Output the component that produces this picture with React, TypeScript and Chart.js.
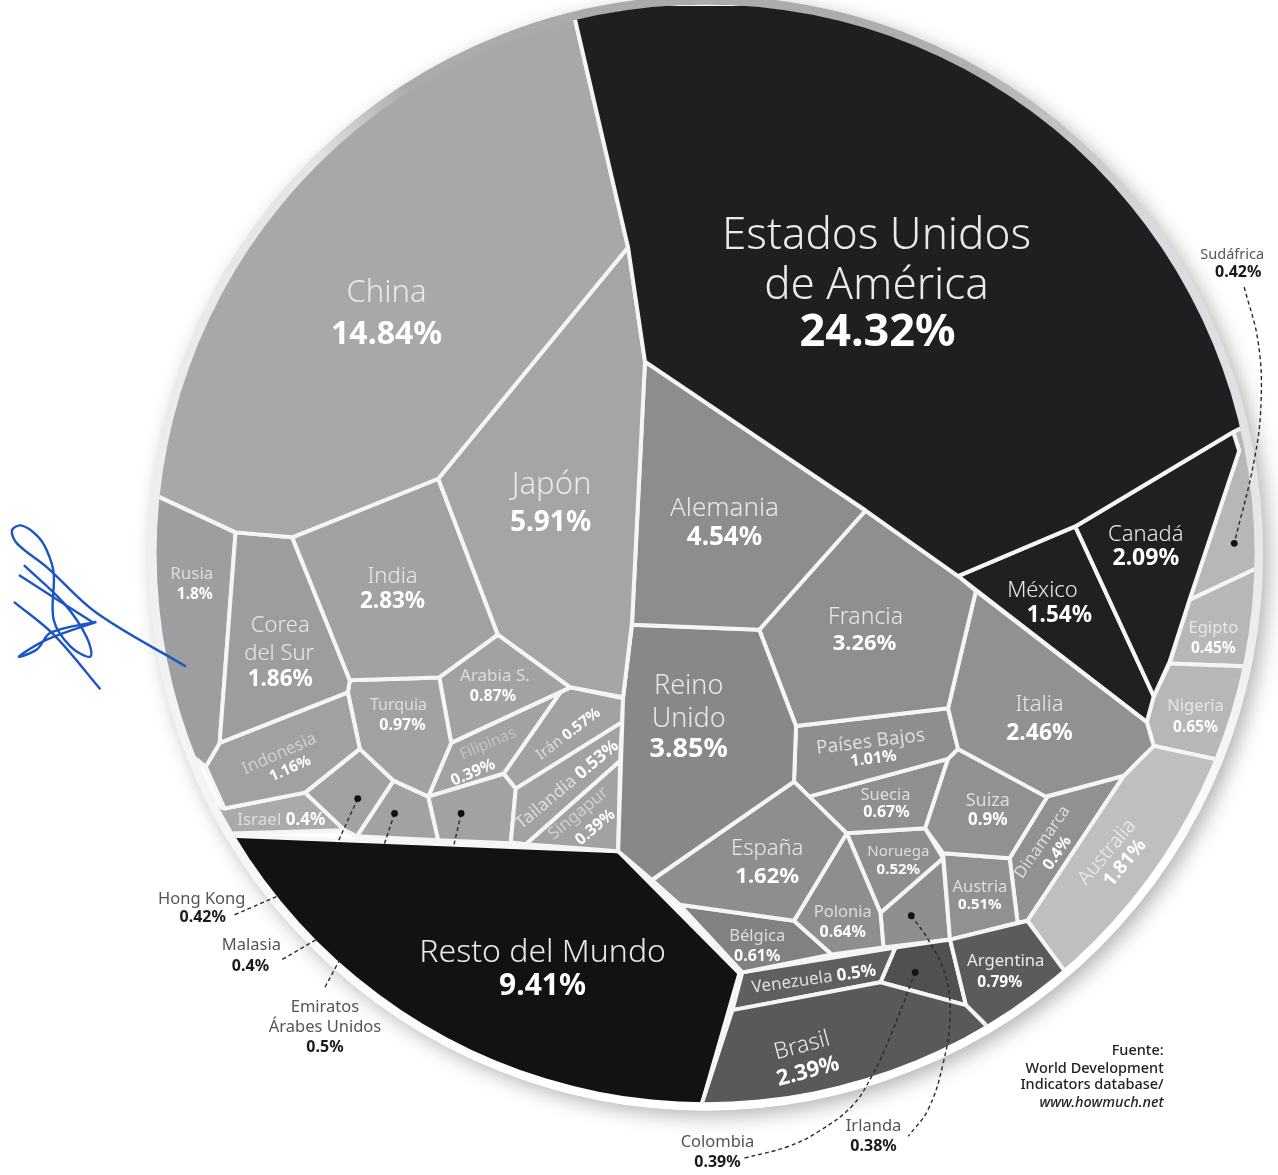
import React, { useEffect, useRef } from "react";
import { Chart, registerables } from "chart.js";

// ---- data ----
const countries = ["Estados Unidos de América","China","Japón","Alemania","Reino Unido","Francia","India","Italia","Brasil","Canadá","Corea del Sur","Rusia","Australia","España","México","Indonesia","Países Bajos","Turquía","Suiza","Arabia S.","Argentina","Suecia","Polonia","Nigeria","Bélgica","Tailandia","Irán","Egipto","Noruega","Austria","Venezuela","Emiratos Árabes Unidos","Sudáfrica","Hong Kong","Malasia","Israel","Dinamarca","Filipinas","Singapur","Colombia","Irlanda","Resto del Mundo"];
const shares = ["24.32","14.84","5.91","4.54","3.85","3.26","2.83","2.46","2.39","2.09","1.86","1.8","1.81","1.62","1.54","1.16","1.01","0.97","0.9","0.87","0.79","0.67","0.64","0.65","0.61","0.53","0.57","0.45","0.52","0.51","0.5","0.5","0.42","0.42","0.4","0.4","0.4","0.39","0.39","0.39","0.38","9.41"];

// Voronoi cell outlines, in the chart's data space
const outlines: Record<string, number[][]> = {
  "Estados Unidos de América": [[571,0],[628,245],[645,360],[867,510],[960,576],[1078,526],[1237,431],[1278,410],[1278,0]],
  "China": [[571,0],[628,245],[437,478],[290,537],[233,532],[160,498],[100,470],[100,0]],
  "Japón": [[628,245],[645,360],[632,622],[623,698],[570,688],[497,635],[437,478]],
  "Alemania": [[645,360],[867,510],[760,630],[632,625]],
  "Reino Unido": [[632,625],[760,630],[797,727],[795,783],[652,882],[618,853],[623,698]],
  "Francia": [[867,510],[960,576],[978,591],[950,709],[797,727],[760,630]],
  "India": [[290,537],[437,478],[497,635],[438,678],[348,681]],
  "Italia": [[978,591],[1150,723],[1157,747],[1127,777],[1048,798],[960,750],[950,709]],
  "Brasil": [[733,1013],[882,985],[968,1008],[987,1027],[1010,1060],[800,1175],[680,1175],[703,1105]],
  "Canadá": [[1078,526],[1237,431],[1243,450],[1193,600],[1173,662],[1157,697]],
  "Corea del Sur": [[233,532],[290,537],[348,681],[346,693],[217,744]],
  "Rusia": [[160,498],[233,532],[217,744],[203,768],[120,700],[100,480]],
  "Australia": [[1157,747],[1127,777],[1030,923],[1067,973],[1120,1010],[1278,860],[1278,770],[1217,760]],
  "España": [[795,783],[848,835],[795,923],[680,907],[652,882]],
  "México": [[960,576],[1078,526],[1157,697],[1150,723]],
  "Indonesia": [[217,744],[346,693],[358,750],[303,794],[222,810],[203,768]],
  "Países Bajos": [[797,727],[950,709],[960,750],[950,760],[810,798],[795,783]],
  "Turquía": [[348,681],[438,678],[450,744],[427,798],[392,782],[358,750],[346,693]],
  "Suiza": [[960,750],[1050,798],[1012,860],[945,855],[927,830],[950,760]],
  "Arabia S.": [[497,635],[570,688],[450,744],[438,678]],
  "Argentina": [[952,942],[1030,923],[1067,973],[1090,1000],[1010,1060],[987,1027],[968,1008]],
  "Suecia": [[810,798],[950,760],[927,830],[848,835]],
  "Polonia": [[848,835],[882,915],[885,950],[833,957],[795,923]],
  "Nigeria": [[1173,664],[1278,668],[1278,770],[1217,760],[1157,747],[1150,723],[1157,697]],
  "Bélgica": [[680,907],[795,923],[833,957],[743,975]],
  "Tailandia": [[515,790],[622,723],[620,762],[525,846],[510,844]],
  "Irán": [[570,688],[623,699],[622,723],[515,790],[503,775],[560,693]],
  "Egipto": [[1193,600],[1278,560],[1278,668],[1173,664]],
  "Noruega": [[848,835],[927,830],[945,860],[882,915]],
  "Austria": [[945,855],[1012,860],[1020,925],[952,942]],
  "Venezuela": [[743,975],[897,950],[882,985],[733,1013]],
  "Emiratos Árabes Unidos": [[427,798],[503,775],[515,790],[510,845],[437,842]],
  "Sudáfrica": [[1243,450],[1193,600],[1278,560],[1278,410],[1237,431]],
  "Hong Kong": [[358,750],[392,782],[355,838],[343,832],[303,794]],
  "Malasia": [[392,782],[427,798],[437,842],[355,838]],
  "Israel": [[222,810],[303,794],[343,832],[200,836],[190,800]],
  "Dinamarca": [[1050,798],[1127,777],[1030,923],[1020,925],[1012,860]],
  "Filipinas": [[450,744],[560,693],[503,775],[427,798]],
  "Singapur": [[620,762],[618,853],[525,846]],
  "Colombia": [[897,950],[952,942],[968,1008],[882,985]],
  "Irlanda": [[945,860],[952,942],[885,950],[882,915]],
  "Resto del Mundo": [[190,836],[618,853],[740,976],[703,1105],[680,1175],[200,1175]],
};

// dashed leaders from a cell to its outside label
const leaders: number[][][] = [
  [[356,800],[335,846]],
  [[232,917],[278,897]],
  [[393,815],[382,848]],
  [[280,962],[316,941]],
  [[460,815],[452,850]],
  [[323,990],[339,960]],
  [[917,975],[910,993],[893,1037],[873,1080],[853,1110],[820,1135],[790,1150],[745,1162]],
  [[913,918],[930,942],[947,977],[952,1020],[945,1067],[930,1113],[910,1140]],
  [[1248,285],[1262,340],[1265,400],[1258,460],[1238,543]],
];
const leaderDots: number[][] = [[356,800],[393,815],[460,815],[917,975],[913,918],[1238,543]];

// the pen signature on the left
const pen: number[][][] = [
  [[183,667],[93,613],[43,567],[13,543],[8,530],[17,525],[33,535],[43,550],[50,573],[50,620],[67,647],[87,657],[83,637],[60,603],[20,565]],
  [[93,622],[43,640],[15,657],[33,650],[47,633],[93,622]],
  [[15,575],[90,623]],
  [[10,602],[50,635],[97,690]],
];

// ---- styling (separate from the data) ----
const shade: Record<string,string> = {
  "Estados Unidos de América":"#1d1f21","China":"#a6a8aa","Japón":"#a3a5a7","Alemania":"#8b8d8f","Reino Unido":"#86888a","Francia":"#8d8f91","India":"#a0a2a4","Italia":"#8f9193","Brasil":"#58595b","Canadá":"#1e2022","Corea del Sur":"#9b9d9f","Rusia":"#9c9ea0","Australia":"#bdbfc1","España":"#8c8e90","México":"#1e2022","Indonesia":"#9fa1a3","Países Bajos":"#8c8e90","Turquía":"#a0a2a4","Suiza":"#8f9193","Arabia S.":"#a0a2a4","Argentina":"#5a5b5d","Suecia":"#8d8f91","Polonia":"#8c8e90","Nigeria":"#b5b7b9","Bélgica":"#7f8183","Tailandia":"#a0a2a4","Irán":"#a0a2a4","Egipto":"#b5b7b9","Noruega":"#8c8e90","Austria":"#8f9193","Venezuela":"#5e5f61","Emiratos Árabes Unidos":"#a0a2a4","Sudáfrica":"#b5b7b9","Hong Kong":"#a0a2a4","Malasia":"#a0a2a4","Israel":"#a8aaac","Dinamarca":"#8f9193","Filipinas":"#a0a2a4","Singapur":"#a0a2a4","Colombia":"#4f5052","Irlanda":"#8c8e90","Resto del Mundo":"#111213",
};

type Lab = { c: string; parts: (string|number)[][]; size: number; vsize?: number; a?: number; col?: string };
const F = "'Noto Sans'";
const OUT = "#555555";
const TEXT_DY = 5;
const L: Lab[] = [
  {c:"Estados Unidos de América",parts:[["Estados Unidos",878,229],["de América",878,279],["%",879,326]],size:44,vsize:45},
  {c:"China",parts:[["China",385,286],["%",385,328]],size:31,vsize:32},
  {c:"Japón",parts:[["Japón",551,479],["%",550,518]],size:31,vsize:28},
  {c:"Alemania",parts:[["Alemania",725,503],["%",725,532]],size:26,vsize:26},
  {c:"Reino Unido",parts:[["Reino",689,682],["Unido",689,715],["%",689,745]],size:27,vsize:27},
  {c:"Francia",parts:[["Francia",867,613],["%",866,639]],size:23,vsize:22},
  {c:"India",parts:[["India",391,572],["%",391,597]],size:22,vsize:22.5},
  {c:"Italia",parts:[["Italia",1042,701],["%",1042,729]],size:22,vsize:23},
  {c:"Brasil",parts:[["Brasil",803,1044],["%",809,1070]],size:23,vsize:22,a:-15},
  {c:"Canadá",parts:[["Canadá",1149,529],["%",1149,553]],size:22,vsize:23},
  {c:"Corea del Sur",parts:[["Corea",278,621],["del Sur",277,649],["%",278,675]],size:22,vsize:22.5},
  {c:"Rusia",parts:[["Rusia",189,569],["%",192,590]],size:17,vsize:15.5,col:"#dddddd"},
  {c:"España",parts:[["España",768,846],["%",768,874]],size:22,vsize:22},
  {c:"México",parts:[["México",1045,586],["%",1062,611]],size:22,vsize:22.5},
  {c:"Resto del Mundo",parts:[["Resto del Mundo",542,950],["%",542,984]],size:32,vsize:30},
  {c:"Turquía",parts:[["Turquia",397,701],["%",401,721]],size:16,vsize:16,col:"#dddddd"},
  {c:"Arabia S.",parts:[["Arabia S.",494,672],["%",492,692]],size:17,vsize:16,col:"#dddddd"},
  {c:"Indonesia",parts:[["Indonesia",277,750],["%",288,765]],size:17,vsize:15,a:-24,col:"#d0d0d0"},
  {c:"Filipinas",parts:[["Filipinas",487,740],["%",472,769]],size:15.5,vsize:16,a:-23,col:"#c4c4c4"},
  {c:"Singapur",parts:[["Singapur",578,810],["%",595,824]],size:17,vsize:16,a:-40,col:"#d0d0d0"},
  {c:"Países Bajos",parts:[["Países Bajos",872,738],["%",875,755]],size:19,vsize:16,a:-7,col:"#dddddd"},
  {c:"Suecia",parts:[["Suecia",887,792],["%",888,809]],size:16.5,vsize:16,col:"#dddddd"},
  {c:"Suiza",parts:[["Suiza",990,797],["%",990,817]],size:18,vsize:17,col:"#dddddd"},
  {c:"Dinamarca",parts:[["Dinamarca",1045,839],["%",1060,850]],size:16.5,vsize:16,a:-55,col:"#dddddd"},
  {c:"Australia",parts:[["Australia",1110,849],["%",1128,860]],size:20,vsize:19,a:-50,col:"#eeeeee"},
  {c:"Noruega",parts:[["Noruega",900,849],["%",900,867]],size:15,vsize:15,col:"#dddddd"},
  {c:"Austria",parts:[["Austria",982,884],["%",982,902]],size:16.5,vsize:15,col:"#dddddd"},
  {c:"Polonia",parts:[["Polonia",844,910],["%",844,930]],size:16.5,vsize:16,col:"#dddddd"},
  {c:"Bélgica",parts:[["Bélgica",758,934],["%",758,954]],size:16.5,vsize:16,col:"#dddddd"},
  {c:"Argentina",parts:[["Argentina",1008,959],["%",1002,980]],size:16.7,vsize:15.5},
  {c:"Nigeria",parts:[["Nigeria",1199,702],["%",1199,724]],size:16.5,vsize:15.5,col:"#e6e6e6"},
  {c:"Egipto",parts:[["Egipto",1217,624],["%",1217,644]],size:16.5,vsize:15.5,col:"#e6e6e6"},
  {c:"Sudáfrica",parts:[["Sudáfrica",1236,248],["%",1242,265]],size:14.5,vsize:16,col:OUT},
  {c:"Hong Kong",parts:[["Hong Kong",199,896],["%",200,915]],size:16.5,vsize:16,col:OUT},
  {c:"Malasia",parts:[["Malasia",249,943],["%",248,964]],size:16.5,vsize:16,col:OUT},
  {c:"Emiratos Árabes Unidos",parts:[["Emiratos",323,1005],["Árabes Unidos",323,1025],["%",323,1046]],size:16.5,vsize:16,col:OUT},
  {c:"Colombia",parts:[["Colombia",718,1141],["%",718,1161]],size:16.5,vsize:16,col:OUT},
  {c:"Irlanda",parts:[["Irlanda",875,1125],["%",875,1145]],size:16.5,vsize:16,col:OUT},
];
// one-line labels: name and share run together
const inlineLabels: [string, string, number, number, number, number][] = [
  ["Israel","Israel",279,817,17,0],
  ["Irán","Irán",568,730,15,-37],
  ["Tailandia","Tailandia",567,781,17.5,-40],
  ["Venezuela","Venezuela",815,977,17,-8],
];
const credit: [string, number, string][] = [
  ["Fuente:",1049,"500"],
  ["World Development",1067,"500"],
  ["Indicators database/",1083,"500"],
  ["www.howmuch.net",1101,"italic 500"],
];

const CX = 706, CY = 553, R = 549;
const CELLS = Object.keys(outlines).length;

const clipPlugin = {
  id: "discClip",
  beforeDatasetDraw(chart: any, args: any) {
    if (args.index >= CELLS) return;
    const { ctx, scales } = chart;
    ctx.save();
    ctx.beginPath();
    ctx.arc(scales.x.getPixelForValue(CX), scales.y.getPixelForValue(CY), R, 0, Math.PI * 2);
    ctx.clip();
  },
  afterDatasetDraw(chart: any, args: any) {
    if (args.index >= CELLS) return;
    chart.ctx.restore();
  },
};
// must come before the Filler so that the fill is clipped as well
Chart.register(clipPlugin);
Chart.register(...registerables);

const ringStops: [number, string][] = [
  [0, "#e6e8ea"], [0.1, "#ffffff"], [0.3, "#ffffff"], [0.5, "#efefef"], [0.625, "#e4e4e4"],
  [0.66, "#a9abad"], [0.75, "#a9abad"], [0.83, "#aeb0b2"], [0.9, "#d8dadd"], [1, "#e6e8ea"],
];

const ringPlugin = {
  id: "ring",
  beforeDatasetsDraw(chart: any) {
    const { ctx, scales } = chart;
    const x = scales.x.getPixelForValue(CX), y = scales.y.getPixelForValue(CY);
    ctx.save();
    ctx.shadowColor = "rgba(0,0,0,0.3)";
    ctx.shadowBlur = 20;
    ctx.shadowOffsetX = 6;
    ctx.shadowOffsetY = 6;
    ctx.fillStyle = "#ffffff";
    ctx.beginPath();
    ctx.arc(x, y, R + 8, 0, Math.PI * 2);
    ctx.fill();
    ctx.restore();
    ctx.save();
    const g = ctx.createConicGradient(0, x, y);
    for (const [t, c] of ringStops) g.addColorStop(t, c);
    ctx.lineWidth = 9;
    ctx.strokeStyle = g;
    ctx.beginPath();
    ctx.arc(x, y, R + 4, 0, Math.PI * 2);
    ctx.stroke();
    ctx.restore();
  },
};

const labelPlugin = {
  id: "labels",
  afterDatasetsDraw(chart: any) {
    const { ctx, scales } = chart;
    const px = (v: number) => scales.x.getPixelForValue(v);
    const py = (v: number) => scales.y.getPixelForValue(v + TEXT_DY);
    const share = (c: string) => shares[countries.indexOf(c)] + "%";
    ctx.save();
    ctx.textAlign = "center";
    ctx.textBaseline = "middle";
    for (const l of L) {
      for (const p of l.parts) {
        const isV = p[0] === "%";
        ctx.save();
        ctx.translate(px(p[1] as number), py(p[2] as number));
        if (l.a) ctx.rotate((l.a * Math.PI) / 180);
        const dark = l.col === OUT;
        ctx.fillStyle = isV ? (dark ? "#1a1a1a" : "#ffffff") : (l.col || "#e9e9e9");
        ctx.font = isV ? `700 ${l.vsize || l.size}px ${F}` : `${l.size >= 20 ? 300 : 400} ${l.size}px ${F}`;
        ctx.fillText(isV ? share(l.c) : (p[0] as string), 0, 0);
        ctx.restore();
      }
    }
    for (const [c, name, x, y, size, a] of inlineLabels) {
      ctx.save();
      ctx.translate(px(x), py(y));
      ctx.rotate((a * Math.PI) / 180);
      ctx.textAlign = "left";
      const nameFont = `400 ${size}px ${F}`, valFont = `700 ${size}px ${F}`;
      const t1 = name + " ", t2 = share(c);
      ctx.font = nameFont; const w1 = ctx.measureText(t1).width;
      ctx.font = valFont; const w2 = ctx.measureText(t2).width;
      const x0 = -(w1 + w2) / 2;
      ctx.fillStyle = "#dedede"; ctx.font = nameFont; ctx.fillText(t1, x0, 0);
      ctx.fillStyle = "#ffffff"; ctx.font = valFont; ctx.fillText(t2, x0 + w1, 0);
      ctx.restore();
    }
    ctx.textAlign = "right";
    ctx.fillStyle = "#222222";
    for (const [t, y, st] of credit) {
      ctx.font = `${st} 14.5px ${F}`;
      ctx.fillText(t, px(1167), py(y));
    }
    ctx.restore();
  },
};

const pts = (a: number[][]) => a.map(([x, y]) => ({ x, y }));

export default function App() {
  const ref = useRef<HTMLCanvasElement>(null);
  useEffect(() => {
    document.body.style.margin = "0";
    document.body.style.background = "#ffffff";
    const names = Object.keys(outlines);
    const cellSets = names.map((n) => ({
      label: n,
      data: pts([...outlines[n], outlines[n][0]]),
      showLine: true,
      fill: "shape",
      backgroundColor: shade[n],
      borderColor: "#f4f5f5",
      borderWidth: 4,
      borderJoinStyle: "round",
      pointRadius: 0,
      tension: 0,
      clip: false,
      order: 10,
    }));
    const leaderSets = leaders.map((l, i) => ({
      label: "leader" + i,
      data: pts(l),
      showLine: true,
      fill: false,
      borderColor: "#2a2a2a",
      borderWidth: 1.4,
      borderDash: [4, 3],
      pointRadius: 0,
      tension: 0.4,
      clip: false,
      order: 2,
    }));
    const dotSet = {
      label: "dots",
      data: pts(leaderDots),
      showLine: false,
      pointRadius: 3.4,
      pointBackgroundColor: "#111111",
      pointBorderWidth: 0,
      clip: false,
      order: 1,
    };
    const penSets = pen.map((l, i) => ({
      label: "pen" + i,
      data: pts(l),
      showLine: true,
      fill: false,
      borderColor: "#1c55c6",
      borderWidth: 2.4,
      pointRadius: 0,
      tension: 0.35,
      clip: false,
      order: 0,
    }));
    const chart = new Chart(ref.current!, {
      type: "scatter",
      data: { datasets: [...cellSets, ...leaderSets, dotSet, ...penSets] as any },
      options: {
        animation: false,
        responsive: false,
        layout: { padding: 0 },
        events: [],
        scales: {
          x: { type: "linear", min: 0, max: 1278, display: false },
          y: { type: "linear", min: 0, max: 1175, reverse: true, display: false },
        },
        plugins: { legend: { display: false }, tooltip: { enabled: false }, title: { display: false } },
      } as any,
      plugins: [ringPlugin, labelPlugin],
    });
    return () => chart.destroy();
  }, []);
  return <canvas ref={ref} width={1278} height={1175} style={{ display: "block" }} />;
}
